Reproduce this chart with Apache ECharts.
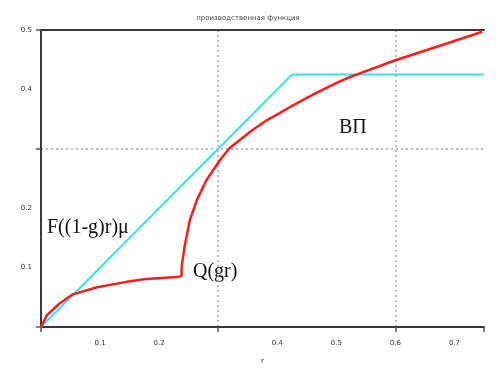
<!DOCTYPE html>
<html>
<head>
<meta charset="utf-8">
<script src="https://cdn.jsdelivr.net/npm/echarts@6/dist/echarts.min.js"></script>
<style>
  html, body { margin: 0; padding: 0; background: #fff; }
  #chart { width: 496px; height: 376px; }
</style>
</head>
<body>
<div id="chart"></div>
<script>
// Q(gr) - red curve
const qPoints = [
  [0, 0], [0.01, 0.02], [0.032, 0.04], [0.054, 0.055], [0.095, 0.067],
  [0.145, 0.076], [0.179, 0.081], [0.23, 0.084], [0.238, 0.086], [0.238, 0.101],
  [0.243, 0.135], [0.252, 0.18], [0.264, 0.214], [0.28, 0.247], [0.303, 0.281],
  [0.319, 0.301], [0.353, 0.328], [0.382, 0.348], [0.404, 0.36], [0.421, 0.37],
  [0.466, 0.394], [0.505, 0.413], [0.526, 0.422], [0.6, 0.449], [0.674, 0.473],
  [0.747, 0.497]
]
// F((1-g)r)μ - cyan line
const fPoints = [[0, 0], [0.425, 0.425], [0.75, 0.425]]

const xMax = 0.75
const yMax = 0.5
const hiddenX = [0, 0.3, 0.75]
const hiddenY = [0, 0.3]

const chart = echarts.init(document.getElementById('chart'))

const axisDark = { show: true, lineStyle: { color: '#3a3a3a', width: 2 } }
const dotted = { show: true, showMaxLine: false, lineStyle: { color: '#a8a8a8', type: [2, 3], width: 1.5 } }
const tinyLabel = { fontSize: 7, color: '#333', fontFamily: 'DejaVu Sans' }

const isHidden = (list, v) => list.some(h => Math.abs(h - v) < 1e-6)

chart.setOption({
  animation: false,
  title: {
    text: 'производственная функция',
    left: 'center',
    top: 10,
    textStyle: { fontSize: 7, color: '#444', fontWeight: 'normal', fontFamily: 'DejaVu Sans' }
  },
  grid: { left: 41, right: 12, top: 30, bottom: 49 },
  xAxis: [
    {
      type: 'value', min: 0, max: xMax, interval: 0.3, position: 'bottom', offset: 7,
      axisLine: axisDark,
      axisTick: { show: true, length: 5, lineStyle: { color: '#555', width: 1.5 } },
      axisLabel: { show: false },
      splitLine: dotted,
      name: 'r', nameLocation: 'middle', nameGap: 24,
      nameTextStyle: tinyLabel
    },
    {
      type: 'value', min: 0, max: xMax, interval: 0.1, position: 'bottom', offset: 7,
      axisLine: { show: false }, axisTick: { show: false }, splitLine: { show: false },
      axisLabel: Object.assign({
        margin: 6,
        formatter: v => isHidden(hiddenX, v) ? '' : v.toFixed(1)
      }, tinyLabel)
    },
    {
      type: 'value', min: 0, max: xMax, position: 'top',
      axisLine: axisDark, axisTick: { show: false }, axisLabel: { show: false }, splitLine: { show: false }
    }
  ],
  yAxis: [
    {
      type: 'value', min: 0, max: yMax, interval: 0.3, offset: 4,
      axisLine: axisDark,
      axisTick: { show: true, length: 5, lineStyle: { color: '#555', width: 1.5 } },
      axisLabel: { show: false },
      splitLine: dotted
    },
    {
      type: 'value', min: 0, max: yMax, interval: 0.1, position: 'left', offset: 4,
      axisLine: { show: false }, axisTick: { show: false }, splitLine: { show: false },
      axisLabel: Object.assign({
        margin: 5,
        formatter: v => isHidden(hiddenY, v) ? '' : v.toFixed(1)
      }, tinyLabel)
    }
  ],
  series: [
    {
      name: 'F((1-g)r)μ', type: 'line', data: fPoints, showSymbol: false,
      lineStyle: { color: '#35e4ec', width: 2 }
    },
    {
      name: 'Q(gr)', type: 'line', data: qPoints, showSymbol: false,
      lineStyle: { color: '#ff1a1a', width: 2.5 }
    }
  ],
  graphic: [
    { type: 'text', left: 47, top: 218, style: { text: 'F((1-g)r)μ', font: '20px "Liberation Serif"', fill: '#111' } },
    { type: 'text', left: 193, top: 262, style: { text: 'Q(gr)', font: '20px "Liberation Serif"', fill: '#111' } },
    { type: 'text', left: 339, top: 118, style: { text: 'ВП', font: '20px "Liberation Serif"', fill: '#111' } }
  ]
})
</script>
</body>
</html>
